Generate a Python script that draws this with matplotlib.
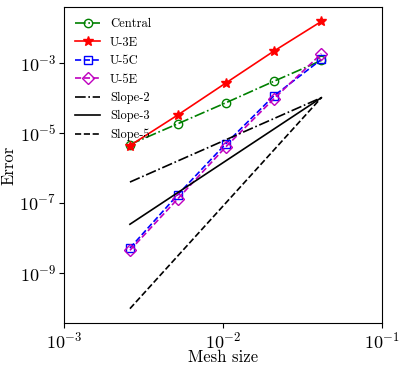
import numpy as np
import matplotlib
matplotlib.use("Agg")
import matplotlib.pyplot as plt

plt.rcParams['font.family'] = 'serif'
plt.rcParams['font.serif'] = ['cmr10']
plt.rcParams['mathtext.fontset'] = 'cm'
plt.rcParams['axes.formatter.use_mathtext'] = True

h = np.array([1/384, 1/192, 1/96, 1/48, 1/24])
central = [4.6e-6, 1.8e-5, 7.1e-5, 2.9e-4, 1.15e-3]
u3e = [4.3e-6, 3.2e-5, 2.6e-4, 2.1e-3, 1.5e-2]
u5c = [5.1e-9, 1.7e-7, 4.8e-6, 1.1e-4, 1.23e-3]
u5e = [4.4e-9, 1.3e-7, 3.9e-6, 9.1e-5, 1.8e-3]
yticks = [1e-9, 1e-7, 1e-5, 1e-3]

# reference slopes anchored at the coarsest mesh
e0 = 1e-4
slope2 = e0 * (h / h[-1])**2
slope3 = e0 * (h / h[-1])**3
slope5 = e0 * (h / h[-1])**5

fig = plt.figure(figsize=(3.99, 3.70), dpi=100)
ax = fig.add_axes([0.160, 0.127, 0.797, 0.854])

ax.loglog(h, central, 'g-.o', mfc='none', lw=1.2, ms=6, label='Central')
ax.loglog(h, u3e, 'r-*', lw=1.2, ms=7, label='U-3E')
ax.loglog(h, u5c, 'b--s', mfc='none', lw=1.2, ms=6, label='U-5C')
ax.loglog(h, u5e, 'm--D', mfc='none', lw=1.2, ms=6, label='U-5E')
ax.loglog(h, slope2, 'k-.', lw=1.2, label='Slope-2')
ax.loglog(h, slope3, 'k-', lw=1.2, label='Slope-3')
ax.loglog(h, slope5, 'k--', lw=1.2, label='Slope-5')

ax.set_xlim(1e-3, 1e-1)
ax.set_yticks(yticks)
ax.minorticks_off()
ax.tick_params(direction='out', labelsize=13, top=False, right=False, pad=2)
ax.set_xlabel('Mesh size', fontsize=12)
ax.set_ylabel('Error', fontsize=12)
ax.xaxis.set_label_coords(0.5, -0.085)
ax.yaxis.set_label_coords(-0.15, 0.5)
ax.legend(loc='upper left', frameon=False, fontsize=9)

fig.savefig('out.png', dpi=100)
